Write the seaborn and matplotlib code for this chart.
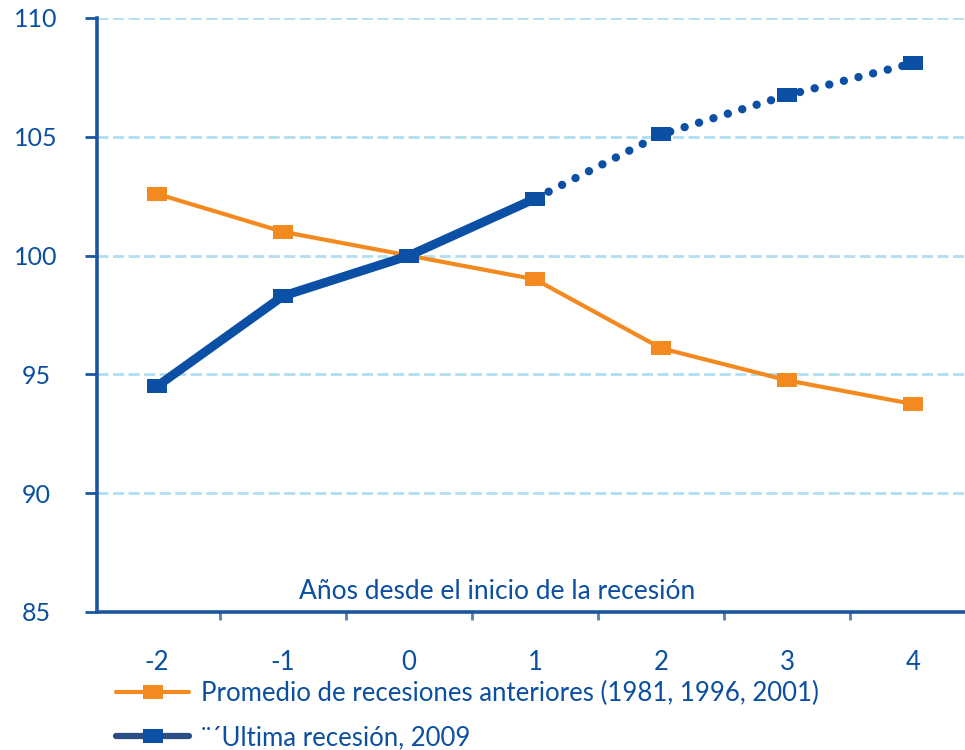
import matplotlib
matplotlib.use("Agg")
import matplotlib.pyplot as plt
from matplotlib.lines import Line2D
import seaborn as sns
import pandas as pd

# Years relative to the start of the recession
years = [-2, -1, 0, 1, 2, 3, 4]
# Index (start of recession = 100)
promedio = [102.6, 101.0, 100.0, 99.0, 96.1, 94.75, 93.75]
ultima = [94.5, 98.3, 100.0, 102.4, 105.1, 106.75, 108.1]
ultima_obs_years = [-2, -1, 0, 1]
ultima_proj_years = [1, 2, 3, 4]

label_promedio = "Promedio de recesiones anteriores (1981, 1996, 2001)"
label_ultima = "¨´Ultima recesión, 2009"
xlabel = "Años desde el inicio de la recesión"
yticks = [85, 90, 95, 100, 105, 110]

ORANGE = "#f28a1f"
BLUE = "#0b50a5"
TEXT = "#0b4fa0"
GRID = "#b2def1"
SPINE = "#1d56a0"

# wide rectangular marker
RECT = [(-1.45, -1.0), (1.45, -1.0), (1.45, 1.0), (-1.45, 1.0), (-1.45, -1.0)]

sns.set_theme(style="white")
plt.rcParams["font.family"] = ["Lato", "DejaVu Sans"]

fig = plt.figure(figsize=(9.65, 7.5), dpi=100)
ax = fig.add_axes([97 / 965, 138 / 750, 1 - 97 / 965, 594 / 750])

df_p = pd.DataFrame({"x": years, "y": promedio})
df_obs = pd.DataFrame({"x": ultima_obs_years,
                       "y": [ultima[years.index(v)] for v in ultima_obs_years]})
df_proj = pd.DataFrame({"x": ultima_proj_years,
                        "y": [ultima[years.index(v)] for v in ultima_proj_years]})

for yv in yticks[1:]:
    ax.axhline(yv, color=GRID, lw=2.0, dashes=(4, 1.6), zorder=0)

sns.lineplot(data=df_p, x="x", y="y", ax=ax, color=ORANGE, lw=3,
             marker=RECT, markersize=14, markeredgewidth=0, zorder=3)
sns.lineplot(data=df_proj, x="x", y="y", ax=ax, color=BLUE, lw=6,
             linestyle=(0, (0.01, 1.8)), dash_capstyle="round",
             marker=RECT, markersize=14.5, markeredgewidth=0, zorder=4)
sns.lineplot(data=df_obs, x="x", y="y", ax=ax, color=BLUE, lw=6.5,
             marker=RECT, markersize=14.5, markeredgewidth=0, zorder=5)

ax.set_xlim(-2.476, 4.41)
ax.set_ylim(85, 110)
ax.set_yticks(yticks)
ax.set_yticklabels([str(v) for v in yticks], ha="center")
ax.set_xticks(years)
ax.set_xticklabels([str(v) for v in years])
ax.set_xticks([v + 0.5 for v in years[:-1]], minor=True)
ax.set_xlabel("")
ax.set_ylabel("")

ax.tick_params(axis="y", which="major", left=True, length=9, width=2,
               color=SPINE, pad=35, labelsize=18, labelcolor=TEXT)
ax.tick_params(axis="x", which="major", bottom=False, length=0, pad=27,
               labelsize=18.5, labelcolor=TEXT)
ax.tick_params(axis="x", which="minor", bottom=True, length=6, width=2,
               color="#5a7fae", direction="out")

for side in ("top", "right"):
    ax.spines[side].set_visible(False)
for side in ("left", "bottom"):
    ax.spines[side].set_color(SPINE)
    ax.spines[side].set_linewidth(2.6)

ax.text(0.7, 85.85, xlabel, ha="center", va="center", fontsize=19,
        color=TEXT)

handles = [
    Line2D([], [], color=ORANGE, lw=3, marker=RECT, markersize=14,
           markeredgewidth=0, label=label_promedio),
    Line2D([], [], color="#2b4e87", lw=4.5, marker=RECT, markersize=14,
           markerfacecolor=BLUE, markeredgewidth=0, label=label_ultima),
]
fig.legend(handles=handles, loc="upper left",
           bbox_to_anchor=(116 / 965, 1 - 681 / 750),
           frameon=False, fontsize=18.5, labelcolor=TEXT, handlelength=2.85,
           handletextpad=0.45, labelspacing=0.75, borderaxespad=0, borderpad=0)

fig.savefig("out.png", dpi=100)
